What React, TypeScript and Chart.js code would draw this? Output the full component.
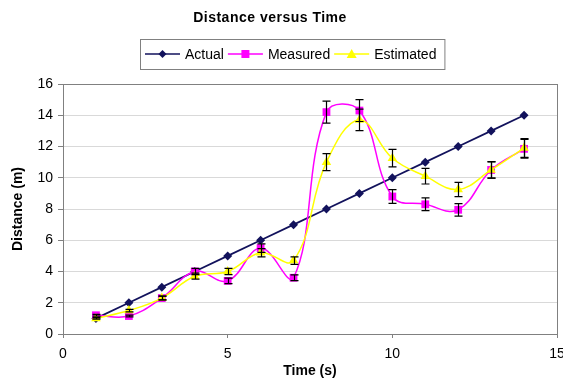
import React, { useEffect, useRef } from "react";
import { Chart, registerables } from "chart.js";

Chart.register(...registerables);

const times = [1, 2, 3, 4, 5, 6, 7, 8, 9, 10, 11, 12, 13, 14];
const actual = [1, 2, 3, 4, 5, 6, 7, 8, 9, 10, 11, 12, 13, 14];
const measured = [1.2, 1.15, 2.3, 4.0, 3.4, 5.5, 3.6, 14.2, 14.3, 8.8, 8.3, 7.95, 10.5, 11.85];
const estimated = [1.0, 1.5, 2.3, 3.7, 4.0, 5.2, 4.7, 11.0, 13.7, 11.25, 10.1, 9.25, 10.5, 11.9];
const measuredErr = [0.06, 0.06, 0.12, 0.2, 0.17, 0.27, 0.18, 0.7, 0.7, 0.44, 0.41, 0.4, 0.52, 0.6];
const estimatedErr = [0.05, 0.08, 0.12, 0.19, 0.2, 0.26, 0.24, 0.55, 0.69, 0.56, 0.5, 0.46, 0.53, 0.6];
const xTicks = [0, 5, 10, 15];
const yTicks = [0, 2, 4, 6, 8, 10, 12, 14, 16];
const seriesNames = ["Actual", "Measured", "Estimated"];
const chartTitle = "Distance versus Time";
const xTitle = "Time (s)";
const yTitle = "Distance (m)";

const NAVY = "#12125c";
const MAGENTA = "#ff00ff";
const YELLOW = "#ffff00";
const FONT = "Arial, 'Liberation Sans', sans-serif";

function drawMarker(ctx: CanvasRenderingContext2D, style: string, x: number, y: number, r: number, color: string) {
  ctx.save();
  ctx.fillStyle = color;
  ctx.beginPath();
  if (style === "rectRot") {
    ctx.moveTo(x, y - r);
    ctx.lineTo(x + r, y);
    ctx.lineTo(x, y + r);
    ctx.lineTo(x - r, y);
  } else if (style === "rect") {
    ctx.rect(x - r, y - r, 2 * r, 2 * r);
  } else {
    ctx.moveTo(x, y - r);
    ctx.lineTo(x + r, y + r * 0.8);
    ctx.lineTo(x - r, y + r * 0.8);
  }
  ctx.closePath();
  ctx.fill();
  ctx.restore();
}

const customPlugin = {
  id: "customDecor",
  beforeDatasetsDraw(chart: any) {
    const { ctx, chartArea } = chart;
    ctx.save();
    ctx.strokeStyle = "#808080";
    ctx.lineWidth = 1;
    ctx.strokeRect(chartArea.left + 0.5, chartArea.top + 0.5, chartArea.right - chartArea.left, chartArea.bottom - chartArea.top);
    ctx.restore();
  },
  afterDatasetsDraw(chart: any) {
    const { ctx } = chart;
    const xs = chart.scales.x;
    const ys = chart.scales.y;
    const sets = [
      { vals: measured, errs: measuredErr },
      { vals: estimated, errs: estimatedErr },
    ];
    ctx.save();
    ctx.strokeStyle = "#000000";
    ctx.lineWidth = 1.2;
    for (const s of sets) {
      for (let i = 0; i < times.length; i++) {
        const px = Math.round(xs.getPixelForValue(times[i])) + 0.5;
        const top = ys.getPixelForValue(s.vals[i] + s.errs[i]);
        const bot = ys.getPixelForValue(s.vals[i] - s.errs[i]);
        ctx.beginPath();
        ctx.moveTo(px, top);
        ctx.lineTo(px, bot);
        ctx.moveTo(px - 4, top);
        ctx.lineTo(px + 4, top);
        ctx.moveTo(px - 4, bot);
        ctx.lineTo(px + 4, bot);
        ctx.stroke();
      }
    }
    ctx.restore();
  },
  afterDraw(chart: any) {
    const { ctx } = chart;
    ctx.save();
    // Title
    ctx.fillStyle = "#000";
    ctx.font = `bold 14px ${FONT}`;
    (ctx as any).letterSpacing = "0.5px";
    ctx.textAlign = "center";
    ctx.textBaseline = "middle";
    ctx.fillText(chartTitle, 270, 18);
    (ctx as any).letterSpacing = "0px";

    // Legend
    const styles = ["rectRot", "rect", "triangle"];
    const colors = [NAVY, MAGENTA, YELLOW];
    const radii = [4, 4, 5];
    ctx.font = `14px ${FONT}`;
    ctx.textAlign = "left";
    const boxLeft = 140;
    const boxTop = 39;
    const boxH = 30;
    const cy = boxTop + boxH / 2;
    let x = boxLeft + 5;
    for (let i = 0; i < seriesNames.length; i++) {
      ctx.strokeStyle = colors[i];
      ctx.lineWidth = 1.5;
      ctx.beginPath();
      ctx.moveTo(x, cy);
      ctx.lineTo(x + 35, cy);
      ctx.stroke();
      drawMarker(ctx, styles[i], x + 17.5, cy, radii[i], colors[i]);
      ctx.fillStyle = "#000";
      ctx.fillText(seriesNames[i], x + 40, cy + 1);
      x += 40 + ctx.measureText(seriesNames[i]).width + 4;
    }
    const boxRight = x + 4;
    ctx.strokeStyle = "#808080";
    ctx.lineWidth = 1;
    ctx.strokeRect(boxLeft + 0.5, boxTop + 0.5, boxRight - boxLeft, boxH);
    ctx.restore();
  },
};

export default function App() {
  const ref = useRef<HTMLCanvasElement | null>(null);
  useEffect(() => {
    document.body.style.margin = "0";
    document.body.style.background = "#ffffff";
    if (!ref.current) return;
    const chart = new Chart(ref.current, {
      type: "line",
      data: {
        datasets: [
          {
            label: seriesNames[0],
            data: times.map((t, i) => ({ x: t, y: actual[i] })),
            borderColor: NAVY,
            backgroundColor: NAVY,
            borderWidth: 1.7,
            pointStyle: "rectRot",
            pointRadius: 4.5,
            pointBorderWidth: 0,
            tension: 0,
            order: 3,
          },
          {
            label: seriesNames[1],
            data: times.map((t, i) => ({ x: t, y: measured[i] })),
            borderColor: MAGENTA,
            backgroundColor: MAGENTA,
            borderWidth: 1.5,
            pointStyle: "rect",
            pointRadius: 5.5,
            pointBorderWidth: 0,
            tension: 0.4,
            order: 2,
          },
          {
            label: seriesNames[2],
            data: times.map((t, i) => ({ x: t, y: estimated[i] })),
            borderColor: YELLOW,
            backgroundColor: YELLOW,
            borderWidth: 1.5,
            pointStyle: "triangle",
            pointRadius: 5.5,
            pointBorderWidth: 0,
            tension: 0.4,
            order: 1,
          },
        ],
      },
      options: {
        animation: false,
        responsive: false,
        maintainAspectRatio: false,
        layout: { padding: { top: 84, right: 6, left: 0, bottom: 0 } },
        plugins: {
          legend: { display: false },
          title: { display: false },
          tooltip: { enabled: false },
        },
        scales: {
          x: {
            type: "linear",
            min: 0,
            max: 15,
            afterBuildTicks: (scale: any) => {
              scale.ticks = xTicks.map((v) => ({ value: v }));
            },
            ticks: { color: "#000", font: { family: FONT, size: 14 }, padding: 8, maxRotation: 0 },
            grid: { drawOnChartArea: false, drawTicks: true, tickLength: 4, color: "#808080" },
            border: { color: "#808080" },
            title: { display: true, text: xTitle, color: "#000", font: { family: FONT, size: 14, weight: "bold" }, padding: { top: 0, bottom: 0 } },
            afterFit: (scale: any) => {
              scale.height = 46;
              scale.paddingRight = 0;
              scale.paddingLeft = 0;
            },
          },
          y: {
            type: "linear",
            min: 0,
            max: 16,
            afterBuildTicks: (scale: any) => {
              scale.ticks = yTicks.map((v) => ({ value: v }));
            },
            ticks: { color: "#000", font: { family: FONT, size: 14 }, padding: 5 },
            grid: { color: "#d9d9d9", tickLength: 5, tickColor: "#808080" },
            border: { color: "#808080" },
            title: { display: true, text: yTitle, color: "#000", font: { family: FONT, size: 14, weight: "bold" }, padding: { top: 10, bottom: 0 } },
            afterFit: (scale: any) => {
              scale.width = 63;
            },
          },
        },
      },
      plugins: [customPlugin],
    } as any);
    return () => chart.destroy();
  }, []);
  return (
    <div style={{ width: 563, height: 380 }}>
      <canvas ref={ref} width={563} height={380} style={{ display: "block" }} />
    </div>
  );
}
